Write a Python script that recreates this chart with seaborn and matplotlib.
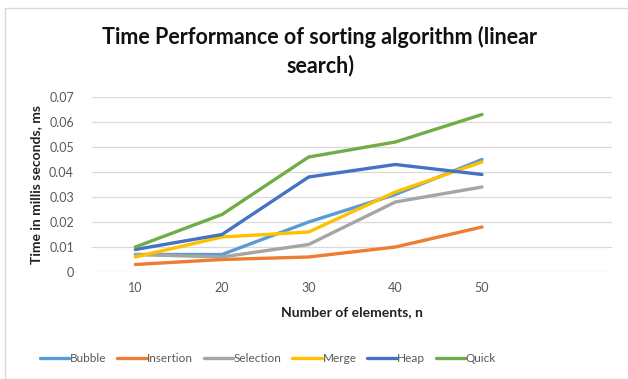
import matplotlib
matplotlib.use("Agg")
import matplotlib.pyplot as plt
import seaborn as sns
import pandas as pd
from matplotlib.patches import Rectangle

# Input sizes (category axis)
sizes = [10, 20, 30, 40, 50]

# Measured times in ms for each algorithm
bubble = [0.007, 0.007, 0.020, 0.031, 0.045]
insertion = [0.003, 0.005, 0.006, 0.010, 0.018]
selection = [0.007, 0.006, 0.011, 0.028, 0.034]
merge = [0.006, 0.014, 0.016, 0.032, 0.044]
heap = [0.009, 0.015, 0.038, 0.043, 0.039]
quick = [0.010, 0.023, 0.046, 0.052, 0.063]

algorithms = ["Bubble", "Insertion", "Selection", "Merge", "Heap", "Quick"]
series = [bubble, insertion, selection, merge, heap, quick]
colors = ["#5B9BD5", "#ED7D31", "#A5A5A5", "#FFC000", "#4472C4", "#70AD47"]

y_ticks = [0, 0.01, 0.02, 0.03, 0.04, 0.05, 0.06, 0.07]
y_tick_labels = ["0", "0.01", "0.02", "0.03", "0.04", "0.05", "0.06", "0.07"]

rows = []
for name, vals in zip(algorithms, series):
    for i, v in enumerate(vals):
        rows.append({"pos": i, "Algorithm": name, "time": v})
df = pd.DataFrame(rows)

sns.set_theme(style="white")
plt.rcParams["font.family"] = ["Lato", "DejaVu Sans"]

fig = plt.figure(figsize=(6.28, 3.79), dpi=100)
ax = fig.add_axes([92 / 628, 1 - 272 / 379, (612 - 92) / 628, (272 - 97) / 379])

sns.lineplot(data=df, x="pos", y="time", hue="Algorithm", hue_order=algorithms,
             palette=colors, linewidth=2.4, ax=ax, legend=True)

ax.set_xlim(-0.5, 5.5)
ax.set_ylim(0, 0.07)
ax.set_xticks(range(len(sizes)))
ax.set_xticklabels([str(s) for s in sizes])
ax.set_yticks(y_ticks)
ax.set_yticklabels(y_tick_labels)
ax.tick_params(axis="both", length=0, labelsize=9, colors="#595959", pad=7)
ax.tick_params(axis="y", pad=13)
ax.yaxis.grid(True, color="#D9D9D9", linewidth=0.9)
ax.xaxis.grid(False)
for s in ax.spines.values():
    s.set_visible(False)
ax.set_axisbelow(True)

ax.set_xlabel("Number of elements, n", fontsize=10, fontweight="bold", color="#222222", labelpad=9)
ax.set_ylabel("Time in millis seconds, ms", fontsize=10, fontweight="bold", color="#222222", labelpad=5)

handles, labels = ax.get_legend_handles_labels()
ax.get_legend().remove()
fig.legend(handles, labels, loc="center", bbox_to_anchor=(268 / 628, 1 - 359 / 379), ncol=6,
           frameon=False, fontsize=8.5, handlelength=2.5, handletextpad=0.05, columnspacing=0.9,
           labelcolor="#595959")

fig.text(320 / 628, 1 - 51 / 379, "Time Performance of sorting algorithm (linear\nsearch)",
         ha="center", va="center", fontsize=15.5, fontweight="bold", color="#111111",
         linespacing=1.4)

# Light chart border
fig.patches.append(Rectangle((5 / 628, 0), 1, 1 - 8 / 379, transform=fig.transFigure,
                             fill=False, edgecolor="#D9D9D9", linewidth=1))

fig.savefig("out.png", dpi=100, facecolor="white")
